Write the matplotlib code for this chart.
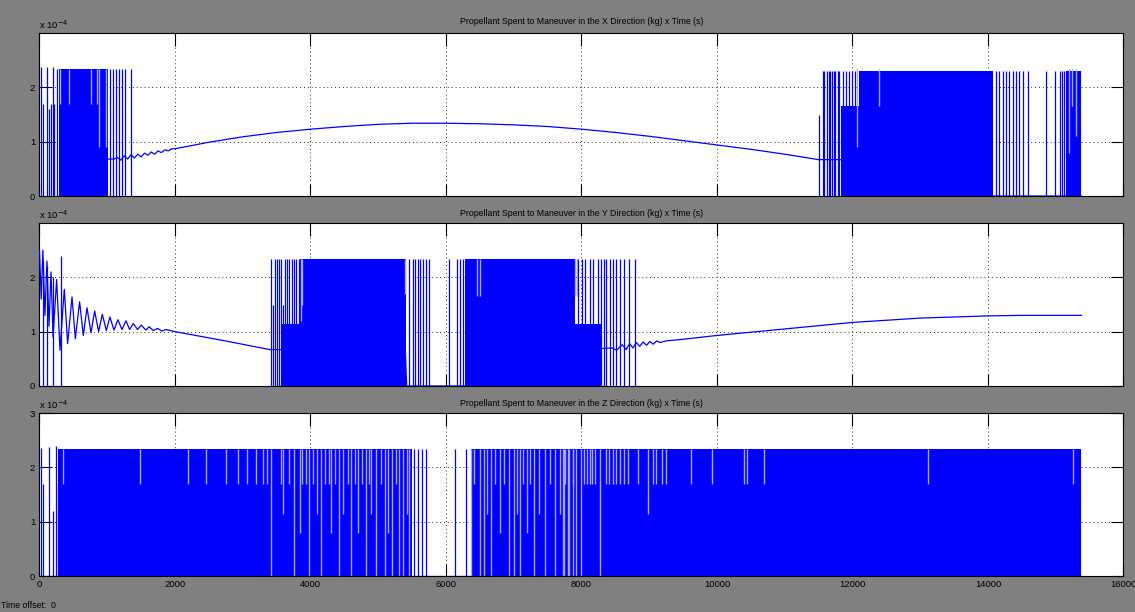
import matplotlib.pyplot as plt

plt.rcParams['font.family'] = ['Liberation Sans', 'DejaVu Sans']

# values in units of 1e-4 kg, time in s
titles = ['Propellant Spent to Maneuver in the X Direction (kg) x Time (s)',
          'Propellant Spent to Maneuver in the Y Direction (kg) x Time (s)',
          'Propellant Spent to Maneuver in the Z Direction (kg) x Time (s)']
x_ticks = [0, 2000, 4000, 6000, 8000, 10000, 12000, 14000, 16000]

# ---- X direction
x_level = 2.33
x_curve_t = [1000, 1100, 1150, 1200, 1250, 1300, 1350, 1400, 1450, 1500, 1550, 1600, 1650,
             1700, 1750, 1800, 1850, 1900, 1950, 2000, 2500, 3000, 3500, 4000, 4500, 5000,
             5500, 6000, 6500, 7000, 7500, 8000, 8500, 9000, 9500, 10000, 10500, 11000,
             11500, 12100, 12100, 15380]
x_curve_v = [0.68, 0.68, 0.71, 0.66, 0.74, 0.68, 0.76, 0.70, 0.77, 0.72, 0.79, 0.75, 0.81,
             0.77, 0.83, 0.80, 0.85, 0.83, 0.87, 0.87, 0.99, 1.09, 1.17, 1.23, 1.28, 1.32,
             1.34, 1.34, 1.33, 1.31, 1.28, 1.23, 1.17, 1.10, 1.02, 0.94, 0.86, 0.77,
             0.67, 0.67, 0.0, 0.0]
x_blocks = [(283, 1005, 2.33), (11830, 12100, 1.65), (12090, 14070, 2.31), (15150, 15375, 2.31)]
x_spike_t = [27, 56, 110, 135, 170, 194, 219, 253,
             1040, 1079, 1128, 1177, 1216, 1265, 1349,
             11511, 11561, 11586, 11625, 11650, 11674, 11699, 11723, 11748, 11783, 11807,
             11860, 11900, 11950, 11990, 12040,
             14120, 14170, 14219, 14268, 14317, 14376, 14416, 14465, 14514, 14598,
             14864, 14987, 15061, 15100, 15125]
x_spike_v = [2.38, 1.7, 2.38, 1.6, 1.7, 2.38, 1.7, 2.33,
             2.33, 2.33, 2.33, 2.33, 2.33, 2.33, 2.33,
             1.5, 2.31, 2.31, 2.31, 2.31, 2.31, 2.31, 2.31, 2.31, 2.31, 2.31,
             2.31, 2.31, 2.31, 2.31, 2.31,
             2.31, 2.31, 2.31, 2.31, 2.31, 2.31, 2.31, 2.31, 2.31, 2.31,
             2.31, 2.31, 2.31, 2.31, 2.31]
x_notch_t = [302, 430, 760, 850, 884, 983, 12070, 12387, 15200, 15240, 15300]
x_notch_v = [1.7, 1.7, 1.7, 1.7, 0.9, 0.9, 0.9, 1.65, 0.8, 1.65, 1.1]

# ---- Y direction
y_level = 2.34
y_curve_t = [0, 25, 50, 80, 110, 140, 170, 200, 253, 302, 366, 415, 480, 529, 592, 647,
             701, 760, 814, 873, 927, 986, 1040, 1099, 1158, 1217, 1276, 1330, 1384, 1448,
             1502, 1570, 1620, 1679, 1743, 1807, 1866, 2000, 2700, 3400, 5400, 5420, 6300,
             6300, 8300, 8450, 8520, 8600, 8660, 8710, 8760, 8810, 8860, 8910, 8960, 9010,
             9060, 9110, 9160, 9250, 9500, 10000, 10500, 11000, 11500, 12000, 12500, 13000,
             13500, 14000, 14500, 15380]
y_curve_v = [2.5, 1.6, 2.5, 1.3, 2.3, 1.1, 2.1, 0.9, 1.96, 0.66, 1.78, 0.78, 1.64, 0.87, 1.55, 0.93,
             1.44, 0.98, 1.38, 1.0, 1.32, 1.02, 1.27, 1.03, 1.22, 1.04, 1.20, 1.04, 1.15, 1.04,
             1.12, 1.03, 1.09, 1.02, 1.06, 1.01, 1.04, 1.0, 0.84, 0.67, 0.67, 0.0, 0.0,
             0.69, 0.69, 0.70, 0.66, 0.76, 0.67, 0.78, 0.70, 0.80, 0.73, 0.81, 0.75, 0.82,
             0.77, 0.83, 0.80, 0.83, 0.86, 0.93, 0.99, 1.05, 1.11, 1.17, 1.21, 1.25,
             1.27, 1.29, 1.30, 1.30]
y_blocks = [(3580, 3842, 1.15), (3842, 5415, 2.34), (6276, 7898, 2.34), (7898, 8290, 1.15)]
y_spike_t = [57, 111, 204, 317,
             3410, 3449, 3474, 3508, 3538, 3572, 3597, 3631, 3656, 3685, 3720, 3754, 3793, 3828,
             5455, 5514, 5548, 5588, 5622, 5661, 5711, 5750,
             6045, 6163, 6202, 6251,
             7947, 8006, 8046, 8119, 8169, 8242, 8292, 8326, 8365, 8414, 8463, 8513, 8562,
             8621, 8709, 8793]
y_spike_v = [2.3, 2.2, 2.0, 2.4,
             2.34, 1.5, 2.34, 2.34, 2.34, 2.34, 1.5, 2.34, 2.34, 2.34, 2.34, 2.34, 2.34, 2.34,
             2.34, 2.34, 2.34, 2.34, 2.34, 2.34, 2.34, 2.34,
             2.34, 2.34, 2.34, 2.34,
             2.34, 2.34, 2.34, 2.34, 2.34, 2.34, 2.34, 2.34, 2.34, 2.34, 2.34, 2.34, 2.34,
             2.34, 2.34, 2.34]
y_notch_t = [3860, 3880, 5400, 6463, 6497, 7900, 7930]
y_notch_v = [1.2, 1.5, 1.7, 1.65, 1.65, 1.65, 1.65]

# ---- Z direction
z_level = 2.34
z_curve_t = [0, 15380]
z_curve_v = [0.0, 0.0]
z_blocks = [(280, 5500, 2.34), (6370, 15380, 2.33)]
z_spike_t = [28, 55, 134, 202, 239, 276, 5530, 5580, 5640, 5700, 6128, 6290]
z_spike_v = [2.35, 1.7, 2.37, 1.2, 2.4, 1.7, 2.33, 2.33, 2.33, 2.33, 2.33, 2.33]
z_notch_t = [345, 1488, 2199, 2462, 2752, 2926, 3058, 3189, 3295, 3358,
             3420, 3560, 3600, 3680, 3760, 3850, 3870, 3940, 3980, 4030, 4100, 4150, 4220,
             4280, 4300, 4360, 4420, 4480, 4550, 4600, 4650, 4700, 4760, 4820, 4860, 4900,
             4960, 5040, 5100, 5150, 5200, 5260, 5300, 5360, 5420, 5460,
             6376, 6420, 6508, 6561, 6610, 6666, 6720, 6798, 6860, 6930, 7009, 7050, 7088,
             7140, 7193, 7240, 7298, 7380, 7456, 7530, 7614, 7680, 7728, 7746, 7763, 7798,
             7820, 7870, 7878, 7921, 7992, 8043, 8084, 8125, 8160, 8196, 8277, 8364, 8404,
             8465, 8516, 8567, 8628, 8694, 8837, 8989, 9060, 9101, 9188, 9254, 9620, 9925,
             10398, 10449, 10688, 13109, 15255]
z_notch_v = [1.7, 1.7, 1.7, 1.7, 1.7, 1.7, 1.7, 1.7, 1.7, 1.7,
             0, 1.7, 1.15, 1.7, 0, 0.8, 1.7, 1.7, 0, 1.7, 1.15, 0, 1.7,
             1.7, 0.8, 1.7, 0, 1.15, 1.7, 0, 1.7, 0.8, 1.7, 0, 1.7, 1.15,
             0, 1.7, 0, 0.8, 0, 1.7, 0, 0, 1.15, 0,
             0, 1.7, 0, 0, 1.15, 0, 1.7, 0.8, 1.7, 0, 0, 1.15, 0,
             1.7, 0.8, 1.7, 0, 1.15, 0, 1.7, 0, 1.15, 0, 0, 1.7, 0,
             0, 1.7, 0, 0, 0, 1.7, 1.7, 1.7, 1.7, 1.7, 0, 1.7, 1.7,
             1.7, 1.7, 1.7, 1.7, 1.7, 1.7, 1.15, 1.7, 1.7, 1.7, 1.7, 1.7, 1.7,
             1.7, 1.7, 1.7, 1.7, 1.7]

panels = [
    (x_curve_t, x_curve_v, x_blocks, x_spike_t, x_spike_v, x_notch_t, x_notch_v, x_level, [0, 1, 2]),
    (y_curve_t, y_curve_v, y_blocks, y_spike_t, y_spike_v, y_notch_t, y_notch_v, y_level, [0, 1, 2]),
    (z_curve_t, z_curve_v, z_blocks, z_spike_t, z_spike_v, z_notch_t, z_notch_v, z_level, [0, 1, 2, 3]),
]

blue = '#0000ff'
light = '#a8a8ff'

fig = plt.figure(figsize=(11.35, 6.12), dpi=100, facecolor='#808080')
bottoms = [0.6797, 0.3693, 0.0588]
title_y = [1 - 22 / 612, 1 - 213 / 612, 1 - 403 / 612]

for i, (ct, cv, blocks, st, sv, nt, nv, level, yt) in enumerate(panels):
    ax = fig.add_axes([0.0348, bottoms[i], 0.955, 0.2663])
    ax.set_facecolor('white')
    for t0, t1, lv in blocks:
        ax.fill_between([t0, t1], 0, lv, color=blue, lw=0, zorder=2)
    ax.vlines(nt, nv, level, color=light, lw=1.0, zorder=3)
    ax.vlines(st, 0, sv, color=blue, lw=0.9, zorder=3)
    ax.plot(ct, cv, color=blue, lw=0.9, zorder=4)

    ax.set_xlim(0, 16000)
    ax.set_ylim(0, 3)
    ax.set_xticks(x_ticks)
    ax.set_yticks(yt)
    ax.set_yticklabels([str(v) for v in yt])
    if i < 2:
        ax.set_xticklabels([])
    else:
        ax.set_xticklabels([str(v) for v in x_ticks])
    ax.set_axisbelow(True)
    ax.grid(True, linestyle=(0, (1, 3)), color='#303030', lw=0.7)
    ax.tick_params(direction='in', length=9, width=0.8, top=True, right=True,
                   labelsize=6.8, pad=3, colors='black')
    for sp in ax.spines.values():
        sp.set_linewidth(0.8)
        sp.set_color('black')
    ax.text(0.0, 1.012, r'x 10$^{-4}$', transform=ax.transAxes, fontsize=6.8,
            ha='left', va='bottom')
    fig.text(0.5123, title_y[i], titles[i], ha='center', va='center', fontsize=6.3)

fig.text(0.001, 1 - 606 / 612, 'Time offset:  0', ha='left', va='center', fontsize=6.3)

plt.savefig('out.png', dpi=100, facecolor=fig.get_facecolor())
